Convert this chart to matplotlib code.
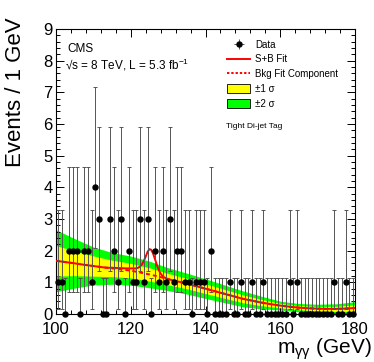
import numpy as np
import matplotlib
matplotlib.use('Agg')
import matplotlib.pyplot as plt
from matplotlib.patches import Patch
from matplotlib.lines import Line2D
from matplotlib.ticker import MultipleLocator

plt.rcParams['font.family'] = ['Liberation Sans', 'DejaVu Sans']
plt.rcParams['mathtext.default'] = 'regular'

# ---------------- data ----------------
bin_lo = np.arange(100, 180, 1.0)          # 1 GeV bins, 100-180
counts = [1, 1, 0, 2, 2, 2, 0, 2, 2, 1, 4, 3, 0, 0, 3, 2,
          1, 3, 0, 2, 1, 1, 3, 1, 3, 0, 2, 1, 2, 1, 3, 1,
          2, 2, 1, 1, 0, 1, 1, 1, 0, 2, 0, 0, 0, 0, 1, 0,
          0, 1, 0, 0, 1, 0, 0, 1, 0, 0, 0, 0, 0, 0, 1, 0,
          1, 0, 0, 0, 0, 0, 0, 0, 0, 0, 1, 0, 0, 1, 0, 0]

# Poisson (RooFit) interval half-widths for n = 0..4
pois_err_lo = [0.0, 0.827, 1.292, 1.633, 1.914]
pois_err_hi = [1.148, 2.300, 2.638, 2.918, 3.163]

# background fit component (every 2.5 GeV)
bkg_x = [100, 102.5, 105, 107.5, 110, 112.5, 115, 117.5, 120, 122.5, 125,
         127.5, 130, 132.5, 135, 137.5, 140, 142.5, 145, 147.5, 150, 152.5,
         155, 157.5, 160, 162.5, 165, 167.5, 170, 172.5, 175, 177.5, 180]
bkg_y = [1.68, 1.64, 1.60, 1.555, 1.515, 1.475, 1.44, 1.405, 1.37, 1.31, 1.25,
         1.18, 1.10, 1.03, 0.96, 0.88, 0.80, 0.72, 0.64, 0.56, 0.48, 0.42,
         0.36, 0.31, 0.265, 0.23, 0.20, 0.18, 0.168, 0.162, 0.162, 0.172, 0.19]

# S+B fit in the signal region
sb_x = [113, 114, 115, 116, 117, 118, 119, 120, 120.5, 121, 121.5, 122, 122.5,
        123, 123.5, 124, 124.5, 125, 125.5, 126, 126.5, 127, 127.5, 128, 128.5,
        129, 129.5, 130]
sb_y = [1.47, 1.46, 1.46, 1.455, 1.45, 1.445, 1.44, 1.44, 1.44, 1.436, 1.444,
        1.462, 1.50, 1.568, 1.676, 1.814, 1.962, 2.05, 2.026, 1.902, 1.728,
        1.544, 1.39, 1.274, 1.198, 1.152, 1.126, 1.10]

# uncertainty bands (half widths, every 5 GeV)
band_x = [100, 105, 110, 115, 120, 125, 130, 135, 140, 145, 150, 155, 160,
          165, 170, 175, 180]
band_1s = [0.48, 0.39, 0.32, 0.26, 0.23, 0.21, 0.18, 0.165, 0.155, 0.14,
           0.125, 0.10, 0.07, 0.065, 0.07, 0.08, 0.10]
band_2s = [0.98, 0.78, 0.60, 0.50, 0.46, 0.42, 0.36, 0.33, 0.31, 0.28, 0.25,
           0.20, 0.14, 0.13, 0.14, 0.16, 0.20]

# ---------------- figure ----------------
W, H = 374, 362
fig = plt.figure(figsize=(W / 100, H / 100), dpi=100)
ax = fig.add_axes([56 / W, 1 - 314 / H, (355 - 56) / W, (314 - 29) / H])

bkg_x = np.array(bkg_x); bkg_y = np.array(bkg_y)
band_c = bkg_y[::2]
bx = np.array(band_x)
ax.fill_between(bx, band_c - np.array(band_2s), band_c + np.array(band_2s),
                color='#00ff00', lw=0, zorder=1)
ax.fill_between(bx, band_c - np.array(band_1s), band_c + np.array(band_1s),
                color='#ffff00', lw=0, zorder=2)

ax.plot(bkg_x, bkg_y, color='red', lw=1.4, ls=(0, (2.0, 1.6)), zorder=3)
m_lo = bkg_x < sb_x[0]
m_hi = bkg_x > sb_x[-1]
sx = np.concatenate([bkg_x[m_lo], sb_x, bkg_x[m_hi]])
sy = np.concatenate([bkg_y[m_lo], sb_y, bkg_y[m_hi]])
ax.plot(sx, sy, color='red', lw=1.4, zorder=4)

cnt = np.array(counts)
xc = bin_lo + 0.5
elo = np.array([pois_err_lo[c] for c in cnt])
ehi = np.array([pois_err_hi[c] for c in cnt])
eb = ax.errorbar(xc, cnt, yerr=[elo, ehi], xerr=0.5, fmt='o', color='black',
                 ms=3.6, ecolor='#555555', elinewidth=0.7, capsize=0,
                 zorder=5)
eb.lines[0].set_clip_on(False)
ax.plot(xc, cnt + ehi, ls='none', marker='_', color='#555555', ms=2.6,
        mew=0.7, zorder=5)
ax.plot(xc[cnt > 0], (cnt - elo)[cnt > 0], ls='none', marker='_',
        color='#555555', ms=2.6, mew=0.7, zorder=5)

ax.set_xlim(100, 180)
ax.set_ylim(0, 9)
ax.xaxis.set_major_locator(MultipleLocator(20))
ax.xaxis.set_minor_locator(MultipleLocator(4))
ax.yaxis.set_major_locator(MultipleLocator(1))
ax.yaxis.set_minor_locator(MultipleLocator(0.2))
ax.tick_params(which='both', direction='in', top=True, right=True,
               labelsize=12, width=0.7)
ax.tick_params(which='major', length=6)
ax.tick_params(which='minor', length=3)
ax.tick_params(axis='x', pad=6)
ax.tick_params(axis='y', pad=2.5)
for s in ax.spines.values():
    s.set_linewidth(0.8)

fig.text(16 / W, 1 - 17 / H, 'Events / 1 GeV', rotation=90, ha='center',
         va='top', fontsize=16)
fig.text(372 / W, 1 - 354 / H, r'm$_{\gamma\gamma}$ (GeV)', ha='right',
         va='baseline', fontsize=15)

fig.text(67 / W, 1 - 43 / H, 'CMS', ha='left', va='top', fontsize=8.5)
fig.text(65 / W, 1 - 57 / H, '√s = 8 TeV, L = 5.3 fb$^{-1}$', ha='left',
         va='top', fontsize=8.5)
fig.text(226 / W, 1 - 126 / H, 'Tight Di-jet Tag', ha='left', va='center',
         fontsize=6)

handles = [eb,
           Line2D([], [], color='red', lw=1.4),
           Line2D([], [], color='red', lw=1.4, ls=(0, (1.2, 1.0))),
           Patch(fc='#ffff00', ec='black', lw=0.6),
           Patch(fc='#00ff00', ec='black', lw=0.6)]
labels = ['Data', 'S+B Fit', 'Bkg Fit Component', '±1 σ', '±2 σ']
ax.legend(handles, labels, loc='upper left', bbox_to_anchor=(0.572, 0.963),
          frameon=False, fontsize=7, handlelength=2.4, handleheight=1.0,
          labelspacing=0.5, handletextpad=0.5, borderpad=0,
          borderaxespad=0)

fig.savefig('out.png', dpi=100)
